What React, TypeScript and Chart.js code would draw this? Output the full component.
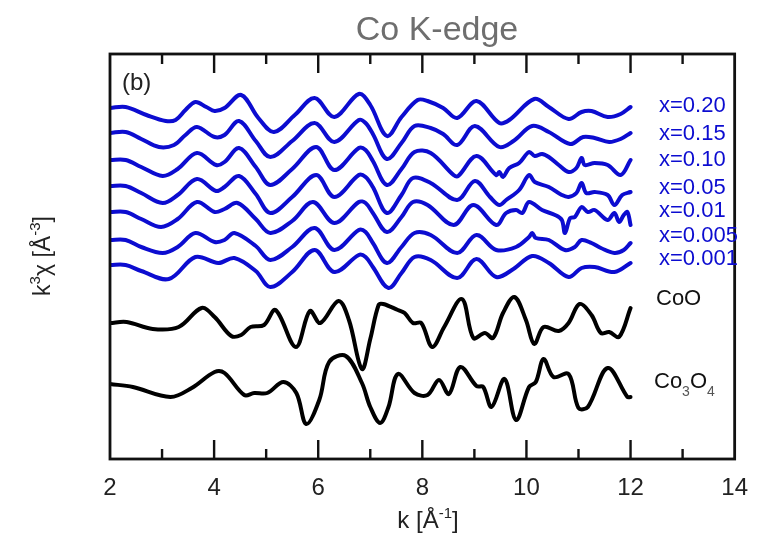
import React, { useEffect, useRef } from 'react';
import { Chart, registerables } from 'chart.js';
Chart.register(...registerables);

// ---- data (k in Å^-1, k^3 chi stacked, arbitrary units) ----
const xTickValues = [2, 4, 6, 8, 10, 12, 14];
const sampleLabels = ['x=0.20', 'x=0.15', 'x=0.10', 'x=0.05', 'x=0.01', 'x=0.005', 'x=0.001'];
const refLabels = ['CoO', 'Co3O4'];

const k020 = [2.0, 2.3, 2.7, 3.07, 3.26, 3.45, 3.64, 3.85, 4.01, 4.2, 4.52, 4.85, 5.15, 5.55, 5.93, 6.31, 6.78, 7.0, 7.32, 7.6, 7.91, 8.1, 8.4, 8.67, 9.04, 9.48, 9.67, 10.15, 10.43, 10.81, 11.06, 11.25, 11.56, 11.81, 12.0];
const y020 = [351, 352, 344, 338, 339, 349, 357, 352, 348, 351, 364, 341, 327, 344, 361, 342, 365, 354, 323, 342, 359, 358, 351, 341, 358, 336, 339, 360, 352, 340, 347, 348, 342, 345, 352];

const k015 = [2.0, 2.3, 2.6, 2.94, 3.23, 3.45, 3.67, 4.01, 4.2, 4.48, 4.8, 5.08, 5.5, 5.93, 6.31, 6.78, 6.91, 7.05, 7.32, 7.6, 7.85, 8.16, 8.4, 8.67, 9.01, 9.48, 9.75, 10.11, 10.43, 10.84, 11.09, 11.31, 11.59, 11.81, 12.0];
const y015 = [326, 327, 320, 312, 314, 324, 332, 322, 324, 338, 318, 302, 318, 336, 317, 339, 336, 325, 300, 316, 333, 331, 325, 314, 333, 312, 318, 333, 327, 315, 322, 321, 317, 320, 326];

const k010 = [2.0, 2.3, 2.6, 3.01, 3.3, 3.67, 4.04, 4.2, 4.48, 4.8, 5.08, 5.5, 5.96, 6.31, 6.78, 6.91, 7.05, 7.32, 7.6, 7.85, 8.16, 8.6, 8.69, 9.04, 9.42, 9.48, 9.55, 9.67, 9.86, 10.05, 10.16, 10.3, 10.43, 10.62, 10.81, 10.96, 11.06, 11.12, 11.31, 11.56, 11.81, 12.0];
const y010 = [299, 299, 292, 283, 290, 306, 294, 297, 311, 292, 274, 290, 312, 289, 311, 309, 298, 274, 290, 307, 306, 284, 283, 303, 284, 287, 282, 291, 296, 307, 303, 305, 302, 294, 287, 291, 301, 294, 296, 294, 284, 299];

const k005 = [2.0, 2.3, 2.6, 3.01, 3.3, 3.67, 4.04, 4.2, 4.48, 4.8, 5.08, 5.5, 5.96, 6.31, 6.78, 6.91, 7.05, 7.32, 7.6, 7.82, 8.16, 8.67, 9.01, 9.3, 9.48, 9.61, 9.86, 10.05, 10.16, 10.43, 10.68, 10.81, 10.96, 11.06, 11.15, 11.31, 11.56, 11.69, 11.84, 12.0];
const y005 = [273, 273, 266, 256, 264, 280, 268, 272, 283, 265, 246, 262, 284, 262, 284, 282, 272, 246, 264, 281, 276, 259, 278, 262, 254, 259, 269, 284, 277, 272, 264, 262, 266, 276, 266, 267, 264, 254, 264, 267];

const k001 = [2.0, 2.3, 2.6, 2.98, 3.3, 3.67, 4.01, 4.2, 4.45, 4.8, 5.08, 5.5, 5.9, 6.31, 6.78, 6.91, 7.05, 7.32, 7.6, 7.82, 8.1, 8.6, 8.98, 9.42, 9.61, 9.8, 9.92, 10.05, 10.3, 10.55, 10.68, 10.74, 10.84, 10.93, 11.06, 11.18, 11.31, 11.56, 11.69, 11.78, 11.87, 11.94, 12.0];
const y001 = [247, 247, 240, 232, 240, 257, 247, 250, 256, 240, 226, 238, 257, 236, 257, 256, 246, 227, 242, 257, 254, 234, 254, 234, 246, 249, 246, 257, 249, 244, 239, 226, 241, 242, 252, 247, 249, 239, 246, 237, 244, 247, 234];

const k0005 = [2.0, 2.3, 2.6, 3.01, 3.3, 3.64, 4.01, 4.2, 4.39, 4.8, 5.08, 5.5, 5.93, 6.31, 6.78, 6.91, 7.05, 7.32, 7.6, 7.85, 8.16, 8.67, 9.04, 9.42, 9.8, 10.05, 10.11, 10.18, 10.43, 10.74, 10.93, 11.06, 11.25, 11.43, 11.69, 11.87, 12.0];
const y0005 = [219, 219, 212, 206, 212, 226, 217, 219, 226, 213, 199, 212, 231, 209, 229, 227, 216, 196, 212, 226, 224, 206, 224, 209, 212, 222, 226, 221, 219, 209, 212, 219, 216, 211, 206, 209, 216];

const k0001 = [2.0, 2.3, 2.6, 3.13, 3.64, 4.08, 4.39, 4.8, 5.08, 5.5, 5.93, 6.31, 6.78, 6.91, 7.05, 7.35, 7.6, 7.85, 8.16, 8.67, 9.04, 9.42, 9.75, 10.11, 10.43, 10.81, 11.06, 11.31, 11.69, 12.0];
const y0001 = [194, 194, 188, 180, 202, 196, 201, 188, 172, 187, 209, 187, 204, 202, 192, 171, 186, 202, 199, 181, 200, 182, 190, 203, 196, 182, 191, 192, 187, 196];

const kCoO = [2.0, 2.32, 2.82, 3.32, 3.76, 4.01, 4.33, 4.52, 4.7, 4.96, 5.18, 5.57, 5.84, 6.04, 6.39, 6.59, 6.84, 7.0, 7.16, 7.25, 7.53, 7.66, 7.82, 7.98, 8.19, 8.42, 8.76, 8.98, 9.2, 9.36, 9.55, 9.77, 9.99, 10.15, 10.33, 10.62, 10.81, 11.02, 11.25, 11.43, 11.59, 11.78, 12.0];
const yCoO = [136, 137, 130, 132, 151, 142, 123, 124, 132, 134, 149, 112, 148, 136, 158, 139, 90, 120, 154, 155, 149, 146, 136, 136, 112, 132, 160, 121, 126, 121, 146, 162, 139, 115, 132, 128, 136, 155, 144, 126, 127, 122, 151];

const kCo3O4 = [2.0, 2.44, 3.16, 3.57, 4.01, 4.2, 4.58, 4.77, 5.02, 5.33, 5.58, 5.77, 6.02, 6.21, 6.53, 6.84, 7.0, 7.19, 7.35, 7.53, 7.85, 8.1, 8.32, 8.51, 8.73, 9.04, 9.17, 9.33, 9.58, 9.8, 10.05, 10.18, 10.33, 10.52, 10.81, 11.0, 11.18, 11.56, 11.94, 12.0];
const yCo3O4 = [75, 72, 62, 71, 87, 86, 64, 66, 66, 77, 66, 35, 59, 97, 103, 76, 52, 36, 52, 85, 66, 64, 79, 65, 92, 73, 72, 52, 80, 39, 72, 77, 100, 82, 85, 51, 52, 91, 62, 62];

const sampleK = [k020, k015, k010, k005, k001, k0005, k0001];
const sampleY = [y020, y015, y010, y005, y001, y0005, y0001];
const refK = [kCoO, kCo3O4];
const refY = [yCoO, yCo3O4];

const BLUE = '#0c0cd0';
const FONT = '"Liberation Sans", Arial, sans-serif';

function drawParts(ctx: CanvasRenderingContext2D, parts: { t: string; size: number; dy?: number; color?: string }[], x: number, y: number, align: 'left' | 'center', baseColor: string) {
  let total = 0;
  const widths = parts.map(p => {
    ctx.font = `${p.size}px ${FONT}`;
    const w = ctx.measureText(p.t).width;
    total += w;
    return w;
  });
  let cx = align === 'center' ? x - total / 2 : x;
  parts.forEach((p, i) => {
    ctx.font = `${p.size}px ${FONT}`;
    ctx.fillStyle = p.color || baseColor;
    ctx.textAlign = 'left';
    ctx.textBaseline = 'alphabetic';
    ctx.fillText(p.t, cx, y + (p.dy || 0));
    cx += widths[i];
  });
}

const decorPlugin = {
  id: 'decor',
  afterDraw(chart: any) {
    const ctx: CanvasRenderingContext2D = chart.ctx;
    const { left, right, top, bottom } = chart.chartArea;
    const xs = chart.scales.x;
    ctx.save();
    // frame
    ctx.strokeStyle = '#111';
    ctx.lineWidth = 2.8;
    ctx.strokeRect(left, top, right - left, bottom - top);
    // inward ticks
    ctx.lineWidth = 2.4;
    for (let v = 3; v < 14; v++) {
      const px = xs.getPixelForValue(v);
      const len = v % 2 === 0 ? 19 : 10;
      ctx.beginPath();
      ctx.moveTo(px, bottom);
      ctx.lineTo(px, bottom - len);
      ctx.moveTo(px, top);
      ctx.lineTo(px, top + len);
      ctx.stroke();
    }
    // title
    ctx.fillStyle = '#6e6e6e';
    ctx.font = `34px ${FONT}`;
    ctx.textAlign = 'center';
    ctx.textBaseline = 'alphabetic';
    ctx.fillText('Co K-edge', 437, 40);
    // panel tag
    ctx.fillStyle = '#222';
    ctx.font = `24px ${FONT}`;
    ctx.textAlign = 'left';
    ctx.textBaseline = 'middle';
    ctx.fillText('(b)', 122, 83);
    // sample labels
    const labelY = [106, 134, 160, 188, 211, 236, 259];
    ctx.fillStyle = BLUE;
    ctx.font = `22px ${FONT}`;
    sampleLabels.forEach((s, i) => ctx.fillText(s, 659, labelY[i]));
    // reference labels
    ctx.fillStyle = '#111';
    ctx.fillText(refLabels[0], 656, 299);
    drawParts(ctx, [
      { t: 'Co', size: 22 },
      { t: '3', size: 14, dy: 8, color: '#555' },
      { t: 'O', size: 22 },
      { t: '4', size: 14, dy: 8, color: '#555' },
    ], 654, 388, 'left', '#111');
    // x axis title
    drawParts(ctx, [
      { t: 'k [Å', size: 24 },
      { t: '-1', size: 15, dy: -10 },
      { t: ']', size: 24 },
    ], 428, 528, 'center', '#222');
    // y axis title
    ctx.save();
    ctx.translate(50, 256);
    ctx.rotate(-Math.PI / 2);
    drawParts(ctx, [
      { t: 'k', size: 23 },
      { t: '3', size: 15, dy: -10 },
      { t: 'χ [Å', size: 23 },
      { t: '-3', size: 15, dy: -10 },
      { t: ']', size: 23 },
    ], 0, 0, 'center', '#222');
    ctx.restore();
    ctx.restore();
  },
};

export default function App() {
  const ref = useRef<HTMLCanvasElement | null>(null);
  useEffect(() => {
    if (!ref.current) return;
    const mk = (k: number[], y: number[], color: string) => ({
      data: k.map((kv, i) => ({ x: kv, y: y[i] })),
      borderColor: color,
      borderWidth: 4,
      pointRadius: 0,
      tension: 0.35,
      fill: false,
      borderJoinStyle: 'round' as const,
      borderCapStyle: 'round' as const,
    });
    const datasets = [
      ...sampleK.map((k, i) => mk(k, sampleY[i], BLUE)),
      ...refK.map((k, i) => mk(k, refY[i], '#000')),
    ];
    const chart = new Chart(ref.current, {
      type: 'line',
      data: { datasets },
      options: {
        animation: false,
        responsive: false,
        layout: { padding: { left: 110, right: 18, top: 54, bottom: 0 } },
        plugins: { legend: { display: false }, tooltip: { enabled: false } },
        scales: {
          x: {
            type: 'linear',
            min: 2,
            max: 14,
            grid: { display: false, drawTicks: false },
            border: { display: false },
            ticks: {
              stepSize: 2,
              color: '#222',
              padding: 15,
              font: { size: 24, family: FONT },
              callback: (v: any) => (xTickValues.includes(Number(v)) ? String(v) : ''),
            },
            afterFit: (s: any) => { s.height = 76; },
          },
          y: { display: false, min: 0, max: 405 },
        },
      },
      plugins: [decorPlugin],
    });
    return () => chart.destroy();
  }, []);
  return (
    <div style={{ position: 'absolute', left: 0, top: 0, width: 763, height: 535, background: '#fff' }}>
      <canvas ref={ref} width={763} height={535} style={{ display: 'block' }} />
    </div>
  );
}
